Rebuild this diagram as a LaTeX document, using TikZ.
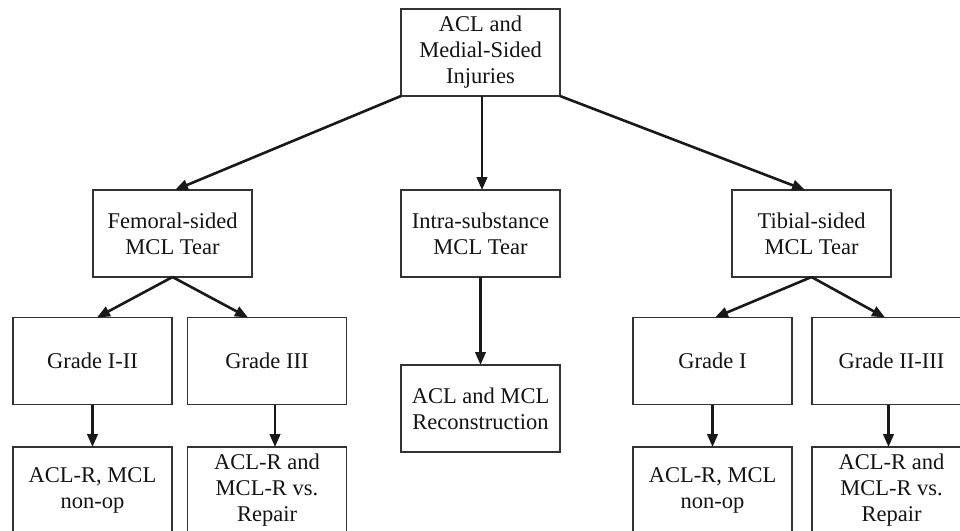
\documentclass[tikz,border=0pt]{standalone}
\usepackage{fontspec}
\setmainfont{Liberation Serif}
\usetikzlibrary{arrows.meta}
\begin{document}
\begin{tikzpicture}[x=1pt,y=-1pt,
  box/.style={draw=black!80, line width=1.1pt, rectangle, inner sep=0pt, outer sep=0pt,
    minimum width=159pt, minimum height=87pt, align=center, text=black!92,
    font=\fontsize{22.5}{26}\selectfont},
  flow/.style={draw=black!90, line width=2.6pt,
    -{Triangle[length=13pt,width=10.5pt]}}]
  % page frame
  \useasboundingbox (0,0) rectangle (960,530);
  \fill[white] (0,0) rectangle (960,530);
  \clip (0,0) rectangle (960,530);

  % root
  \node[box] (root) at (480.5,52.5) {\raisebox{-3pt}{\begin{tabular}{@{}c@{}}ACL and\\Medial-Sided\\Injuries\end{tabular}}};

  % tear location
  \node[box] (fem)   at (172.5,233.5) {Femoral-sided\\MCL Tear};
  \node[box] (intra) at (480.5,233.5) {Intra-substance\\MCL Tear};
  \node[box] (tib)   at (811.5,233.5) {Tibial-sided\\MCL Tear};

  % grades
  \node[box] (g12) at (92.5,361)  {Grade I-II};
  \node[box] (g3)  at (267,361)   {Grade III};
  \node[box] (g1)  at (712.5,361) {Grade I};
  \node[box] (g23) at (891.5,361) {Grade II-III};

  % treatment
  \node[box] (recon) at (480.5,408.5) {ACL and MCL\\Reconstruction};
  \node[box] (t12) at (92.5,490.5)  {ACL-R, MCL\\non-op};
  \node[box] (t3)  at (267,490.5)   {ACL-R and\\MCL-R vs.\\Repair};
  \node[box] (t1)  at (712.5,490.5) {ACL-R, MCL\\non-op};
  \node[box] (t23) at (891.5,490.5) {ACL-R and\\MCL-R vs.\\Repair};

  % connectors
  \draw[flow] (root.south west) -- ([xshift=2.5pt]fem.north);
  \draw[flow] ([xshift=1.5pt]root.south) -- ([xshift=1.5pt]intra.north);
  \draw[flow] (root.south east) -- ([xshift=-6.5pt]tib.north);

  \draw[flow] (fem.south) -- ([xshift=4.5pt]g12.north);
  \draw[flow] (fem.south) -- ([xshift=-19pt]g3.north);
  \draw[flow] (tib.south) -- ([xshift=2.5pt]g1.north);
  \draw[flow] (tib.south) -- ([xshift=-6.5pt]g23.north);

  \draw[flow] (intra.south) -- (recon.north);
  \draw[flow] (g12.south) -- (t12.north);
  \draw[flow] ([xshift=8pt]g3.south) -- ([xshift=8pt]t3.north);
  \draw[flow] (g1.south) -- (t1.north);
  \draw[flow] ([xshift=-3pt]g23.south) -- ([xshift=-3pt]t23.north);
\end{tikzpicture}
\end{document}
